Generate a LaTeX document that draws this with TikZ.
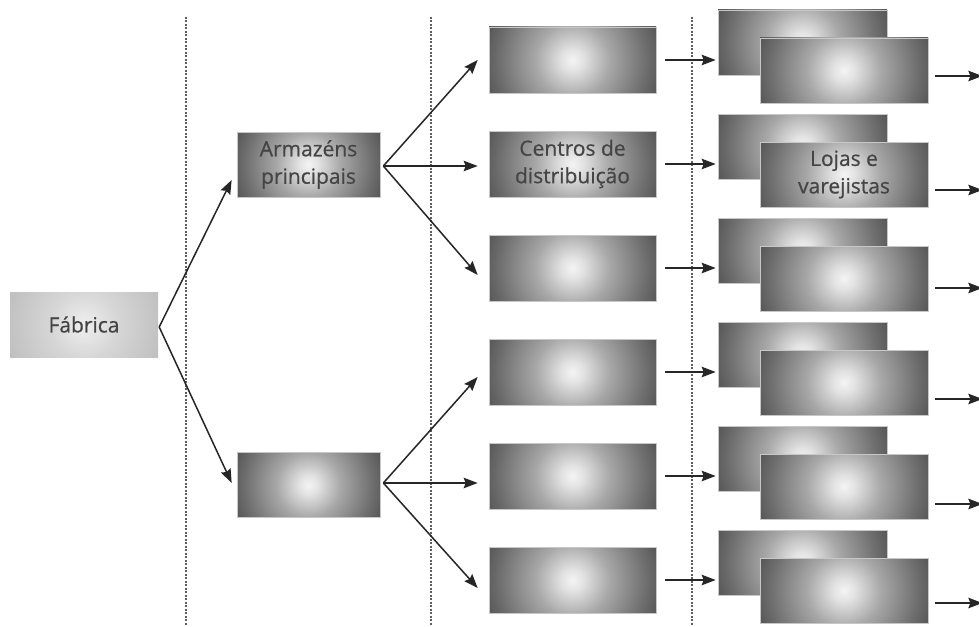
\documentclass[tikz,border=0pt]{standalone}
\usepackage{fontspec}
\setmainfont[FakeBold=0.6]{Open Sans}
\usetikzlibrary{arrows.meta,calc}

% grey tones of the shaded boxes
\definecolor{glowA}{HTML}{F4F4F4}
\definecolor{glowB}{HTML}{E2E2E2}
\definecolor{glowC}{HTML}{A8A8A8}
\definecolor{glowD}{HTML}{6E6E6E}
\definecolor{glowE}{HTML}{545454}
\definecolor{softA}{HTML}{EFEFEF}
\definecolor{softB}{HTML}{D6D6D6}
\definecolor{softC}{HTML}{BDBDBD}
\definecolor{inktext}{HTML}{454545}
\definecolor{inkline}{HTML}{262626}
\definecolor{sepgray}{HTML}{5E5E5E}

% 25bp corresponds to the radius of the shaded circle
\pgfdeclareradialshading{boxglow}{\pgfpoint{0bp}{0bp}}{%
  color(0bp)=(glowA); color(3bp)=(glowB); color(10bp)=(glowC);
  color(20bp)=(glowD); color(25bp)=(glowE); color(50bp)=(glowE)}
\pgfdeclareradialshading{softglow}{\pgfpoint{0bp}{0bp}}{%
  color(0bp)=(softA); color(10bp)=(softB); color(25bp)=(softC);
  color(50bp)=(softC)}

\tikzset{
  labeltext/.style={text=inktext, align=center,
    font=\fontsize{21}{27.5}\selectfont},
  glowbox/.style={rectangle, inner sep=0pt, draw=black!22, line width=0.7pt,
    labeltext,
    path picture={\shade[shading=boxglow]
      (path picture bounding box.center) circle (#1);}},
  glowbox/.default=92pt,
  softbox/.style={rectangle, inner sep=0pt, labeltext,
    path picture={\shade[shading=softglow]
      (path picture bounding box.center) circle (85pt);}},
  hubsize/.style={minimum width=143pt, minimum height=65pt},
  distsize/.style={minimum width=167pt, minimum height=66pt},
  shopsize/.style={minimum width=168pt, minimum height=65pt},
  flow/.style={draw=inkline, line width=1.5pt,
    -{Stealth[length=14pt,width=10.5pt,inset=2pt]}},
  sepline/.style={draw=sepgray, line width=2pt,
    dash pattern=on 2pt off 1.5pt},
}

\begin{document}
\begin{tikzpicture}[x=1pt,y=-1pt]
\clip (0,0) rectangle (979,626);
\fill[white] (0,0) rectangle (979,626);

% dotted separators between the levels
\foreach \lx in {186,431,692}
  \draw[sepline] (\lx,17) -- (\lx,626);

% factory and main warehouses
\node[softbox, minimum width=148pt, minimum height=65pt] (fab) at (84,324.5) {Fábrica};
\node[glowbox=80pt, hubsize] (arm1) at (308.5,164.5) {Armazéns\\principais};
\node[glowbox=80pt, hubsize] (arm2) at (308.5,485) {};

% distribution centres and stores, one row each
\foreach \k/\dtext/\stext in {1/{}/{}, 2/{Centros de\\distribuição}/{Lojas e\\varejistas},
    3/{}/{}, 4/{}/{}, 5/{}/{}, 6/{}/{}} {
  \pgfmathsetmacro\dy{60+104*(\k-1)}
  \pgfmathsetmacro\by{42.5+104*(\k-1)}
  \pgfmathsetmacro\fy{70.5+104*(\k-1)}
  \node[glowbox, distsize] (d\k) at (572.5,\dy) {\dtext};
  \node[glowbox, shopsize, minimum width=169pt] (b\k) at (802.5,\by) {};
  \node[glowbox, shopsize] (f\k) at (844,\fy) {\stext};
}

% factory to warehouses
\coordinate (fabout) at ($(fab.east)+(1,2.5)$);
\draw[flow] (fabout) -- ($(arm1.west)+(-5,15.5)$);
\draw[flow] (fabout) -- ($(arm2.west)+(-5,-2)$);

% warehouses to distribution centres
\coordinate (armout1) at ($(arm1.east)+(3,1.5)$);
\coordinate (armout2) at ($(arm2.east)+(3,-2)$);
\draw[flow] (armout1) -- ($(d1.west)+(-11,0)$);
\draw[flow] (armout1) -- ($(d2.west)+(-11,2)$);
\draw[flow] (armout1) -- ($(d3.west)+(-11,7)$);
\draw[flow] (armout2) -- ($(d4.west)+(-11,5)$);
\draw[flow] (armout2) -- ($(d5.west)+(-11,7)$);
\draw[flow] (armout2) -- ($(d6.west)+(-11,8)$);

% distribution centres to stores, and stores onwards
\foreach \k/\off in {1/5.5, 2/15.5, 3/9.5, 4/16.5, 5/17.5, 6/12.5} {
  \draw[flow] ($(d\k.east)+(9,0)$) -- ($(b\k.west |- d\k.east)+(-2,0)$);
  \coordinate (out\k) at ($(f\k.east)+(54,\off)$);
  \draw[flow] ($(f\k.east)+(7,\off)$) -- (out\k);
}
\end{tikzpicture}
\end{document}
